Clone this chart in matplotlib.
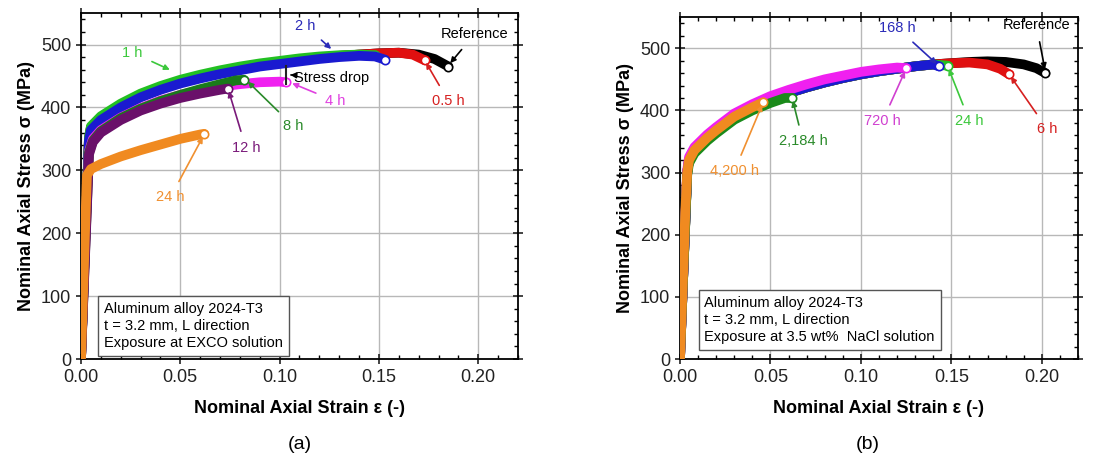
import matplotlib.pyplot as plt
from matplotlib.ticker import MultipleLocator

# ---- panel (a): EXCO solution ----
a_ref_x = [0.0, 0.002, 0.004, 0.005, 0.01, 0.02, 0.03, 0.04, 0.05, 0.06, 0.07, 0.08, 0.09, 0.10, 0.11, 0.12, 0.13, 0.14, 0.15, 0.16, 0.17, 0.178, 0.185]
a_ref_y = [0, 180, 350, 368, 384, 404, 420, 432, 442, 450, 457, 463, 468, 472, 476, 479, 482, 484, 486, 487, 484, 477, 465]
a_05_x = [0.0, 0.002, 0.004, 0.005, 0.01, 0.02, 0.03, 0.04, 0.05, 0.06, 0.07, 0.08, 0.09, 0.10, 0.11, 0.12, 0.13, 0.14, 0.15, 0.16, 0.167, 0.173]
a_05_y = [0, 180, 350, 368, 384, 404, 420, 432, 442, 450, 457, 463, 468, 472, 476, 479, 482, 484, 486, 487, 484, 475]
a_1_x = [0.0, 0.002, 0.004, 0.005, 0.01, 0.02, 0.03, 0.04, 0.05, 0.06, 0.07, 0.08, 0.09, 0.10, 0.11, 0.12, 0.13, 0.14, 0.148]
a_1_y = [0, 180, 353, 370, 386, 406, 422, 434, 444, 452, 459, 465, 470, 474, 478, 481, 483, 484, 483]
a_2_x = [0.0, 0.002, 0.004, 0.005, 0.01, 0.02, 0.03, 0.04, 0.05, 0.06, 0.07, 0.08, 0.09, 0.10, 0.11, 0.12, 0.13, 0.14, 0.148, 0.153]
a_2_y = [0, 180, 348, 364, 380, 400, 416, 428, 438, 446, 453, 459, 465, 469, 473, 477, 480, 482, 481, 476]
a_4_x = [0.0, 0.002, 0.004, 0.006, 0.01, 0.02, 0.03, 0.04, 0.05, 0.06, 0.07, 0.08, 0.09, 0.10, 0.103]
a_4_y = [0, 170, 330, 350, 364, 384, 399, 411, 420, 427, 433, 437, 440, 441, 440]
a_8_x = [0.0, 0.002, 0.004, 0.006, 0.01, 0.02, 0.03, 0.04, 0.05, 0.06, 0.07, 0.078, 0.082]
a_8_y = [0, 165, 328, 347, 362, 383, 398, 410, 420, 429, 437, 443, 444]
a_12_x = [0.0, 0.002, 0.004, 0.006, 0.01, 0.02, 0.03, 0.04, 0.05, 0.06, 0.07, 0.074]
a_12_y = [0, 160, 325, 345, 360, 380, 395, 406, 415, 422, 428, 430]
a_24_x = [0.0, 0.001, 0.002, 0.003, 0.005, 0.01, 0.02, 0.03, 0.04, 0.05, 0.06, 0.062]
a_24_y = [0, 100, 200, 292, 302, 310, 322, 332, 341, 350, 357, 358]
stress_drop_x = [0.103, 0.103]
stress_drop_y = [438, 466]

# ---- panel (b): 3.5 wt% NaCl ----
b_ref_x = [0.0, 0.002, 0.004, 0.005, 0.008, 0.015, 0.02, 0.03, 0.04, 0.05, 0.06, 0.07, 0.08, 0.09, 0.10, 0.11, 0.12, 0.13, 0.14, 0.15, 0.16, 0.17, 0.18, 0.19, 0.197, 0.202]
b_ref_y = [0, 150, 300, 320, 336, 356, 368, 390, 405, 418, 428, 437, 445, 452, 458, 463, 467, 471, 474, 476, 478, 479, 478, 474, 468, 460]
b_6_x = [0.0, 0.002, 0.004, 0.005, 0.008, 0.015, 0.02, 0.03, 0.04, 0.05, 0.06, 0.07, 0.08, 0.09, 0.10, 0.11, 0.12, 0.13, 0.14, 0.15, 0.16, 0.17, 0.177, 0.182]
b_6_y = [0, 150, 300, 320, 336, 356, 368, 390, 405, 418, 428, 437, 445, 452, 458, 463, 467, 471, 474, 476, 477, 474, 467, 458]
b_24_x = [0.0, 0.002, 0.004, 0.005, 0.008, 0.015, 0.02, 0.03, 0.04, 0.05, 0.06, 0.07, 0.08, 0.09, 0.10, 0.11, 0.12, 0.13, 0.14, 0.148]
b_24_y = [0, 150, 300, 320, 336, 356, 368, 390, 405, 418, 428, 437, 445, 452, 458, 463, 467, 471, 474, 472]
b_168_x = [0.0, 0.002, 0.004, 0.005, 0.008, 0.015, 0.02, 0.03, 0.04, 0.05, 0.06, 0.07, 0.08, 0.09, 0.10, 0.11, 0.12, 0.13, 0.14, 0.143]
b_168_y = [0, 150, 300, 320, 336, 356, 368, 390, 405, 418, 428, 437, 445, 452, 458, 463, 467, 471, 474, 471]
b_720_x = [0.0, 0.002, 0.004, 0.005, 0.008, 0.015, 0.02, 0.03, 0.04, 0.05, 0.06, 0.07, 0.08, 0.09, 0.10, 0.11, 0.12, 0.125]
b_720_y = [0, 150, 304, 325, 341, 361, 373, 395, 410, 423, 433, 442, 450, 456, 462, 466, 469, 468]
b_2184_x = [0.0, 0.002, 0.004, 0.005, 0.008, 0.015, 0.02, 0.03, 0.04, 0.05, 0.058, 0.062]
b_2184_y = [0, 150, 296, 315, 331, 351, 363, 385, 400, 412, 420, 420]
b_4200_x = [0.0, 0.001, 0.002, 0.003, 0.004, 0.005, 0.008, 0.015, 0.02, 0.03, 0.04, 0.046]
b_4200_y = [0, 80, 160, 240, 300, 320, 336, 356, 368, 390, 405, 413]

# label text, colour, text position, arrow target
a_labels = [
    ('Reference', 'black', (0.198, 516), (0.185, 467)),
    ('0.5 h', '#d62020', (0.185, 410), (0.173, 475)),
    ('2 h', '#2a2ab8', (0.113, 530), (0.127, 490)),
    ('1 h', '#3cc83c', (0.026, 487), (0.046, 458)),
    ('Stress drop', 'black', (0.126, 447), (0.104, 452)),
    ('4 h', '#e040e0', (0.128, 410), (0.105, 440)),
    ('8 h', '#2a8a2a', (0.107, 370), (0.083, 444)),
    ('12 h', '#7a1a7a', (0.083, 336), (0.074, 430)),
    ('24 h', '#f09030', (0.045, 257), (0.062, 357)),
]
b_labels = [
    ('Reference', 'black', (0.197, 537), (0.202, 462)),
    ('168 h', '#2a2ab8', (0.120, 533), (0.143, 472)),
    ('720 h', '#d040d0', (0.112, 383), (0.125, 467)),
    ('24 h', '#3cc83c', (0.160, 383), (0.148, 471)),
    ('6 h', '#d62020', (0.203, 370), (0.182, 458)),
    ('2,184 h', '#2a8a2a', (0.068, 350), (0.062, 420)),
    ('4,200 h', '#f09030', (0.030, 302), (0.046, 413)),
]

a_curves = [
    (a_ref_x, a_ref_y, 'black'),
    (a_05_x, a_05_y, '#e01010'),
    (a_1_x, a_1_y, '#22c022'),
    (a_2_x, a_2_y, '#1a1ad0'),
    (a_4_x, a_4_y, '#f020f0'),
    (a_8_x, a_8_y, '#1a7a1a'),
    (a_12_x, a_12_y, '#6a106a'),
    (a_24_x, a_24_y, '#f08a20'),
]
b_curves = [
    (b_ref_x, b_ref_y, 'black'),
    (b_6_x, b_6_y, '#e01010'),
    (b_24_x, b_24_y, '#22c022'),
    (b_168_x, b_168_y, '#1a1ad0'),
    (b_720_x, b_720_y, '#f020f0'),
    (b_2184_x, b_2184_y, '#1a8a1a'),
    (b_4200_x, b_4200_y, '#f08a20'),
]

plt.rcParams['font.family'] = ['Liberation Sans', 'DejaVu Sans']

fig = plt.figure(figsize=(11.08, 4.57), dpi=100)
ax1 = fig.add_axes([0.0731, 0.2144, 0.3944, 0.757])
ax2 = fig.add_axes([0.6137, 0.2144, 0.3592, 0.748])


def setup(ax, curves, labels, box_text, box_xy):
    # later curves sit on top of earlier ones (and their end markers)
    for i, (x, y, c) in enumerate(curves):
        z = 3 + i * 0.1
        ax.plot(x, y, color=c, lw=7, solid_capstyle='round', solid_joinstyle='round', zorder=z)
        ax.plot(x[-1], y[-1], 'o', ms=6, mfc='white', mec=c, mew=1.2, zorder=z + 0.05)
    for txt, c, xy_text, xy in labels:
        ax.annotate(txt, xy=xy, xytext=xy_text, color=c, fontsize=10.5,
                    ha='center', va='center', zorder=6,
                    arrowprops=dict(arrowstyle='-|>', color=c, lw=1.2,
                                    mutation_scale=8, shrinkA=5, shrinkB=2))
    ax.text(box_xy[0], box_xy[1], box_text, fontsize=10.5, va='bottom', ha='left',
            linespacing=1.3, zorder=7,
            bbox=dict(boxstyle='square,pad=0.4', fc='white', ec='#555555', lw=1))
    ax.set_xlim(0, 0.22)
    ax.set_ylim(0, 550)
    ax.xaxis.set_major_locator(MultipleLocator(0.05))
    ax.xaxis.set_minor_locator(MultipleLocator(0.01))
    ax.yaxis.set_major_locator(MultipleLocator(100))
    ax.yaxis.set_minor_locator(MultipleLocator(20))
    ax.xaxis.set_major_formatter(plt.FormatStrFormatter('%.2f'))
    ax.grid(True, which='major', color='#b8b8b8', lw=1, zorder=0)
    ax.tick_params(which='major', direction='inout', length=7, width=1.2,
                   top=True, right=True, labelsize=13, colors='#222222')
    ax.tick_params(which='minor', direction='in', length=3, width=1,
                   top=True, right=True)
    for s in ax.spines.values():
        s.set_linewidth(1.3)
    ax.set_xlabel('Nominal Axial Strain ε (-)', fontsize=13, fontweight='bold', labelpad=10)
    ax.set_ylabel('Nominal Axial Stress σ (MPa)', fontsize=13, fontweight='bold', labelpad=4)


setup(ax1, a_curves, a_labels,
      'Aluminum alloy 2024-T3\nt = 3.2 mm, L direction\nExposure at EXCO solution',
      (0.0115, 14))
ax1.plot(stress_drop_x, stress_drop_y, color='#222222', lw=1.5, zorder=5)

setup(ax2, b_curves, b_labels,
      'Aluminum alloy 2024-T3\nt = 3.2 mm, L direction\nExposure at 3.5 wt%  NaCl solution',
      (0.0135, 24))

fig.text(0.271, 0.027, '(a)', fontsize=14, ha='center', va='center')
fig.text(0.783, 0.027, '(b)', fontsize=14, ha='center', va='center')

fig.savefig('out.png', dpi=100)
